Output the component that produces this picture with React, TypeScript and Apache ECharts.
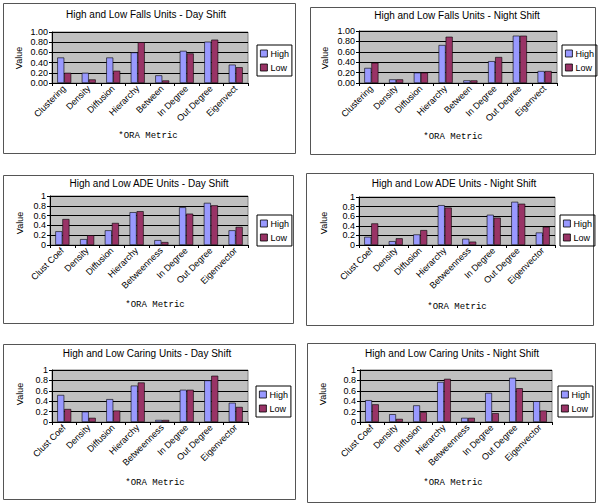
import React, { useEffect, useRef } from "react";
import * as echarts from "echarts";

const fallsCategories = ["Clustering", "Density", "Diffusion", "Hierarchy", "Between", "In Degree", "Out Degree", "Eigenvect"];
const otherCategories = ["Clust Coef", "Density", "Diffusion", "Hierarchy", "Betweenness", "In Degree", "Out Degree", "Eigenvector"];
const seriesNames = ["High", "Low"];

const fallsDayHigh = [0.5, 0.2, 0.5, 0.6, 0.15, 0.63, 0.81, 0.36];
const fallsDayLow = [0.2, 0.07, 0.24, 0.8, 0.05, 0.58, 0.85, 0.31];
const fallsNightHigh = [0.29, 0.07, 0.2, 0.73, 0.05, 0.42, 0.91, 0.23];
const fallsNightLow = [0.39, 0.07, 0.2, 0.89, 0.05, 0.5, 0.91, 0.23];
const adeDayHigh = [0.28, 0.12, 0.3, 0.67, 0.1, 0.77, 0.86, 0.3];
const adeDayLow = [0.53, 0.2, 0.45, 0.69, 0.06, 0.64, 0.81, 0.37];
const adeNightHigh = [0.17, 0.08, 0.22, 0.83, 0.13, 0.63, 0.9, 0.26];
const adeNightLow = [0.45, 0.14, 0.31, 0.78, 0.07, 0.57, 0.86, 0.38];
const caringDayHigh = [0.52, 0.2, 0.44, 0.7, 0.04, 0.62, 0.8, 0.37];
const caringDayLow = [0.25, 0.08, 0.22, 0.76, 0.04, 0.62, 0.89, 0.29];
const caringNightHigh = [0.42, 0.15, 0.32, 0.77, 0.08, 0.56, 0.85, 0.4];
const caringNightLow = [0.34, 0.06, 0.19, 0.83, 0.08, 0.17, 0.65, 0.22];

const titles = [
  "High and Low Falls Units - Day Shift",
  "High and Low Falls Units - Night Shift",
  "High and Low ADE Units - Day Shift",
  "High and Low ADE Units - Night Shift",
  "High and Low Caring Units - Day Shift",
  "High and Low Caring Units - Night Shift",
];
const yAxisName = "Value";
const xAxisName = "*ORA Metric";

const FONT = "Liberation Sans, Arial, sans-serif";
const HIGH_COLOR = "#9999FF";
const LOW_COLOR = "#993366";

// layout per panel (positions only)
const panels = [
  { border: [3, 3, 292, 150], titleX: 146, titleY: 15, plot: [52, 32, 248, 83], valueX: 19, valueY: 58, oraX: 148, oraY: 136, legend: [257, 45], dec: 2 },
  { border: [310, 7, 285, 147], titleX: 457, titleY: 16, plot: [359, 31, 557, 83], valueX: 325, valueY: 58, oraX: 453, oraY: 137, legend: [562, 45], dec: 2 },
  { border: [3, 175, 290, 148], titleX: 149, titleY: 184, plot: [50, 196, 248, 245], valueX: 20, valueY: 223, oraX: 155, oraY: 305, legend: [257, 215], dec: 0 },
  { border: [306, 173, 287, 152], titleX: 454, titleY: 184, plot: [359, 197, 555, 245], valueX: 324, valueY: 223, oraX: 457, oraY: 307, legend: [560, 215], dec: 0 },
  { border: [3, 344, 292, 155], titleX: 147, titleY: 354, plot: [52, 370, 248, 422], valueX: 20, valueY: 394, oraX: 155, oraY: 483, legend: [256, 386], dec: 0 },
  { border: [307, 343, 288, 159], titleX: 452, titleY: 354, plot: [360, 370, 552, 422], valueX: 323, valueY: 394, oraX: 453, oraY: 483, legend: [558, 386], dec: 0 },
];

const panelData = [
  { cats: fallsCategories, high: fallsDayHigh, low: fallsDayLow },
  { cats: fallsCategories, high: fallsNightHigh, low: fallsNightLow },
  { cats: otherCategories, high: adeDayHigh, low: adeDayLow },
  { cats: otherCategories, high: adeNightHigh, low: adeNightLow },
  { cats: otherCategories, high: caringDayHigh, low: caringDayLow },
  { cats: otherCategories, high: caringNightHigh, low: caringNightLow },
];

export default function App() {
  const ref = useRef<HTMLDivElement>(null);
  useEffect(() => {
    document.body.style.margin = "0";
    const chart = echarts.init(ref.current!, null, { renderer: "svg" });
    const grid: any[] = [];
    const xAxis: any[] = [];
    const yAxis: any[] = [];
    const series: any[] = [];
    const title: any[] = [];
    const legend: any[] = [];
    const graphic: any[] = [];

    panels.forEach((p, i) => {
      const d = panelData[i];
      const [x1, y1, x2, y2] = p.plot;
      grid.push({
        left: x1,
        top: y1,
        width: x2 - x1,
        height: y2 - y1,
        show: true,
        backgroundColor: "#C0C0C0",
        borderColor: "#808080",
        borderWidth: 1,
        containLabel: false,
      });
      xAxis.push({
        type: "category",
        gridIndex: i,
        data: d.cats,
        boundaryGap: true,
        axisLine: { show: true, lineStyle: { color: "#000", width: 1 } },
        axisTick: { show: true, alignWithLabel: false, length: 3, lineStyle: { color: "#000" } },
        axisLabel: { rotate: 45, margin: 4, fontSize: 9, fontFamily: FONT, color: "#000", interval: 0 },
        splitLine: { show: false },
      });
      yAxis.push({
        type: "value",
        gridIndex: i,
        min: 0,
        max: 1,
        interval: 0.2,
        axisLine: { show: true, lineStyle: { color: "#000", width: 1 } },
        axisTick: { show: true, length: 3, lineStyle: { color: "#000" } },
        axisLabel: {
          fontSize: 9,
          fontFamily: FONT,
          color: "#000",
          margin: 4,
          formatter: (v: number) => (p.dec ? v.toFixed(2) : String(Math.round(v * 10) / 10)),
        },
        splitLine: { show: true, lineStyle: { color: "#000", width: 1 } },
      });
      [d.high, d.low].forEach((vals, k) => {
        series.push({
          type: "bar",
          name: seriesNames[k],
          xAxisIndex: i,
          yAxisIndex: i,
          data: vals,
          barGap: "0%",
          barCategoryGap: "43%",
          itemStyle: { color: k === 0 ? HIGH_COLOR : LOW_COLOR, borderColor: "#000", borderWidth: 0.6 },
        });
      });
      title.push({
        text: titles[i],
        left: p.titleX,
        top: p.titleY - 6,
        textAlign: "center",
        padding: 0,
        textStyle: { fontSize: 10, fontWeight: "normal", fontFamily: FONT, color: "#000" },
      });
      legend.push({
        data: seriesNames,
        orient: "vertical",
        left: p.legend[0],
        top: p.legend[1],
        borderColor: "#000",
        borderWidth: 1,
        padding: [4, 3, 4, 3],
        itemGap: 5,
        itemWidth: 7,
        itemHeight: 7,
        icon: "rect",
        itemStyle: { borderColor: "#000", borderWidth: 0.8 },
        textStyle: { fontSize: 9, fontFamily: FONT, color: "#000", padding: [0, 0, 0, -2] },
        selectedMode: false,
      });
      const [bx, by, bw, bh] = p.border;
      graphic.push({
        type: "rect",
        shape: { x: bx + 0.5, y: by + 0.5, width: bw, height: bh },
        style: { fill: "none", stroke: "#555", lineWidth: 1 },
        z: -1,
      });
      graphic.push({
        type: "text",
        x: p.valueX,
        y: p.valueY,
        rotation: Math.PI / 2,
        style: { text: yAxisName, fontSize: 9, fontFamily: FONT, fill: "#000", textAlign: "center", textVerticalAlign: "middle" },
      });
      graphic.push({
        type: "text",
        x: p.oraX,
        y: p.oraY,
        style: { text: xAxisName, fontSize: 9, fontFamily: "Liberation Mono, DejaVu Sans Mono, monospace", fill: "#000", textAlign: "center", textVerticalAlign: "middle" },
      });
    });

    chart.setOption({
      animation: false,
      backgroundColor: "#fff",
      title,
      legend,
      grid,
      xAxis,
      yAxis,
      series,
      graphic,
    });
    return () => chart.dispose();
  }, []);
  return <div ref={ref} style={{ width: 600, height: 504, position: "absolute", left: 0, top: 0 }} />;
}
